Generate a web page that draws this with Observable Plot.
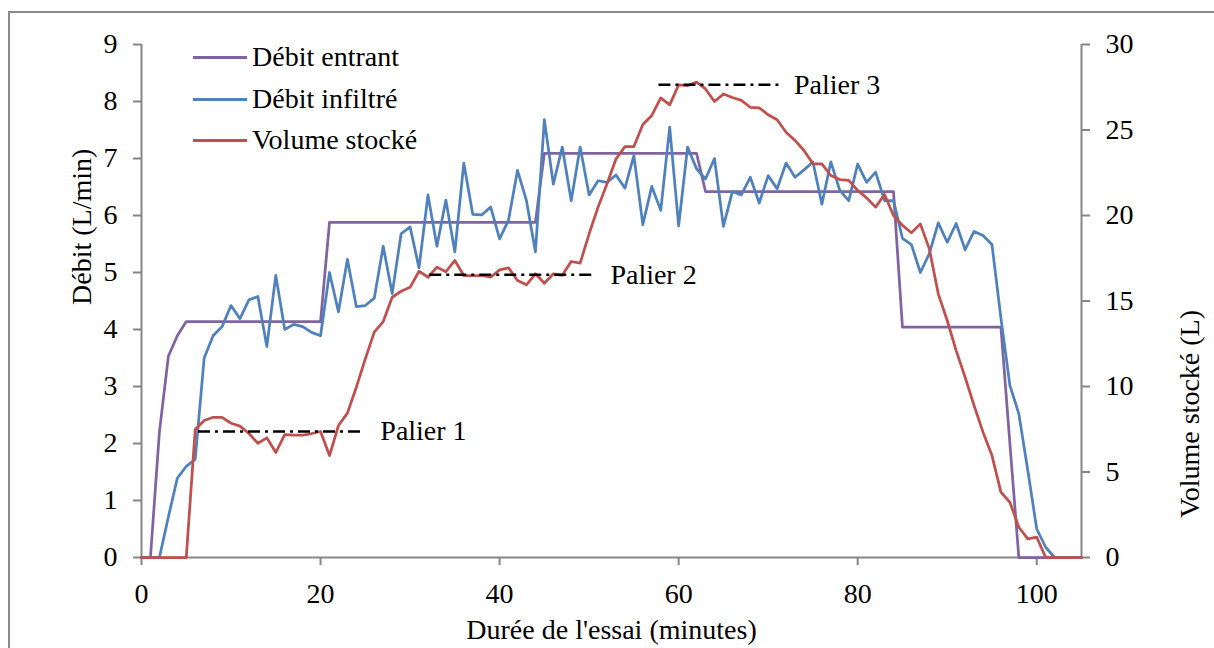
<!DOCTYPE html>
<html>
<head>
<meta charset="utf-8">
<script src="https://cdn.jsdelivr.net/npm/d3@7"></script>
<script src="https://cdn.jsdelivr.net/npm/@observablehq/plot@0.6"></script>
<style>
  html, body { margin: 0; padding: 0; background: #fff; overflow: hidden; }
  #wrap { position: relative; width: 1214px; height: 648px; font-family: "Liberation Serif", "DejaVu Serif", serif; }
  #frame { position: absolute; left: 8px; top: 11px; width: 1400px; height: 800px; border-left: 2px solid #8a8a8a; border-top: 2px solid #8a8a8a; }
  #legend { position: absolute; left: 193px; top: 0; font-size: 28px; color: #000; }
  .row { position: absolute; left: 0; height: 0; white-space: nowrap; }
  .sw { position: absolute; left: 0; top: -1.5px; width: 54px; height: 3px; }
  .lb { position: absolute; left: 59px; top: -17px; line-height: 34px; }
  #chart { position: absolute; left: 0; top: 0; }
</style>
</head>
<body>
<div id="wrap">
  <div id="frame"></div>
  <div id="chart"></div>
  <div id="legend"></div>
</div>
<script>
// ---- Data ----
const minutes = d3.range(0, 106);

const debitEntrant = [0, 0, 2.2, 3.53, 3.89, 4.14, 4.14, 4.14, 4.14, 4.14,
  4.14, 4.14, 4.14, 4.14, 4.14, 4.14, 4.14, 4.14, 4.14, 4.14,
  4.14, 5.88, 5.88, 5.88, 5.88, 5.88, 5.88, 5.88, 5.88, 5.88,
  5.88, 5.88, 5.88, 5.88, 5.88, 5.88, 5.88, 5.88, 5.88, 5.88,
  5.88, 5.88, 5.88, 5.88, 5.88, 7.09, 7.09, 7.09, 7.09, 7.09,
  7.09, 7.09, 7.09, 7.09, 7.09, 7.09, 7.09, 7.09, 7.09, 7.09,
  7.09, 7.09, 7.09, 6.42, 6.42, 6.42, 6.42, 6.42, 6.42, 6.42,
  6.42, 6.42, 6.42, 6.42, 6.42, 6.42, 6.42, 6.42, 6.42, 6.42,
  6.42, 6.42, 6.42, 6.42, 6.42, 4.04, 4.04, 4.04, 4.04, 4.04,
  4.04, 4.04, 4.04, 4.04, 4.04, 4.04, 4.04, 2.0, 0, 0,
  0, 0, 0, 0, 0, 0];

const debitInfiltre = [0, 0, 0, 0.71, 1.39, 1.6, 1.72, 3.5, 3.89, 4.05,
  4.42, 4.19, 4.52, 4.58, 3.70, 4.95, 4.0, 4.09, 4.05, 3.95,
  3.89, 5.0, 4.31, 5.23, 4.40, 4.42, 4.55, 5.46, 4.63, 5.68,
  5.80, 5.08, 6.36, 5.46, 6.27, 5.36, 6.92, 6.02, 6.01, 6.15,
  5.59, 5.92, 6.79, 6.26, 5.36, 7.68, 6.55, 7.2, 6.26, 7.2,
  6.36, 6.61, 6.58, 6.71, 6.48, 7.05, 5.84, 6.51, 6.09, 7.55,
  5.82, 7.2, 6.82, 6.64, 7.0, 5.81, 6.42, 6.36, 6.67, 6.22,
  6.70, 6.47, 6.92, 6.67, 6.80, 6.94, 6.2, 6.94, 6.44, 6.26,
  6.9, 6.58, 6.76, 6.26, 6.26, 5.6, 5.49, 5.0, 5.33, 5.87,
  5.53, 5.86, 5.4, 5.72, 5.65, 5.49, 4.2, 3.02, 2.52, 1.53,
  0.5, 0.18, 0, 0, 0, 0];

const volumeStocke = [0, 0, 0, 0, 0, 0, 7.49, 8.01, 8.2, 8.2,
  7.85, 7.68, 7.25, 6.68, 7.0, 6.14, 7.19, 7.15, 7.15, 7.25,
  7.37, 5.96, 7.72, 8.44, 9.96, 11.62, 13.18, 13.8, 15.22, 15.57,
  15.8, 16.74, 16.39, 16.98, 16.71, 17.37, 16.49, 16.49, 16.49, 16.39,
  16.82, 16.94, 16.2, 15.95, 16.59, 16.04, 16.59, 16.5, 17.31, 17.21,
  18.93, 20.49, 21.85, 23.3, 24.03, 24.03, 25.32, 25.85, 26.88, 26.47,
  27.64, 27.6, 27.8, 27.4, 26.67, 27.1, 26.9, 26.73, 26.33, 26.3,
  25.89, 25.6, 24.87, 24.39, 23.8, 23.02, 23.02, 22.34, 22.1, 22.05,
  21.46, 21.03, 20.49, 21.23, 20.0, 19.42, 18.99, 19.51, 18.05, 15.42,
  13.86, 12.1, 10.54, 8.89, 7.33, 5.96, 3.82, 3.23, 1.77, 1.09,
  1.19, 0, 0, 0, 0, 0];

const palierLabels = ["Palier 1", "Palier 2", "Palier 3"];
const palierStart = [6.37, 32.2, 57.8];
const palierEnd = [25.0, 50.7, 71.2];
const palierVolume = [7.37, 16.53, 27.64];

const seriesNames = ["Débit entrant", "Débit infiltré", "Volume stocké"];
const seriesColors = ["#8064A2", "#4F81BD", "#C0504D"];

const xTicks = [0, 20, 40, 60, 80, 100];
const yTicks = [0, 1, 2, 3, 4, 5, 6, 7, 8, 9];
const y2Ticks = [0, 5, 10, 15, 20, 25, 30];

const yLabel = "Débit (L/min)";
const y2Label = "Volume stocké (L)";
const xLabel = "Durée de l'essai (minutes)";

// ---- Build ----
const yMax = 9, y2Max = 30;
const k = yMax / y2Max; // map volume onto left scale

const rows = [];
minutes.forEach((t, i) => {
  rows.push({t, v: debitEntrant[i], s: seriesNames[0]});
});
minutes.forEach((t, i) => {
  rows.push({t, v: debitInfiltre[i], s: seriesNames[1]});
});
minutes.forEach((t, i) => {
  rows.push({t, v: volumeStocke[i] * k, s: seriesNames[2]});
});
const paliers = palierLabels.map((label, i) => ({label, x1: palierStart[i], x2: palierEnd[i], y: palierVolume[i] * k}));

const axisGray = "#868686";

const chart = Plot.plot({
  width: 1214,
  height: 648,
  marginLeft: 141,
  marginRight: 133,
  marginTop: 44,
  marginBottom: 91,
  style: {fontFamily: "Liberation Serif, DejaVu Serif, serif", fontSize: "28px", color: "#000", background: "transparent", overflow: "visible"},
  x: {domain: [0, 105]},
  y: {domain: [0, yMax]},
  color: {domain: seriesNames, range: seriesColors},
  marks: [
    Plot.ruleY([0], {stroke: axisGray, strokeWidth: 2}),
    Plot.ruleX([0], {stroke: axisGray, strokeWidth: 2}),
    Plot.ruleX([105], {stroke: axisGray, strokeWidth: 2}),
    Plot.axisX(xTicks, {tickSize: 8, tickPadding: 18, stroke: axisGray, strokeWidth: 2, label: null, tickFormat: d => String(d)}),
    Plot.axisY(yTicks, {anchor: "left", tickSize: 8, tickPadding: 16, stroke: axisGray, strokeWidth: 2, label: null, tickFormat: d => String(d)}),
    Plot.axisY(y2Ticks.map(v => v * k), {anchor: "right", tickSize: 8, tickPadding: 16, stroke: axisGray, strokeWidth: 2, label: null, tickFormat: d => String(Math.round(d / k))}),
    Plot.line(rows, {x: "t", y: "v", z: "s", stroke: "s", strokeWidth: 2.75, strokeLinejoin: "round"}),
    Plot.ruleY(paliers, {x1: "x1", x2: "x2", y: "y", stroke: "#000", strokeWidth: 2.5, strokeDasharray: "12,5,3,5"}),
    Plot.text(paliers, {x: "x2", y: "y", text: "label", textAnchor: "start", dx: 15, fill: "#000"}),
    Plot.text([yLabel], {frameAnchor: "left", dx: -59, dy: 4, rotate: -90, fill: "#000"}),
    Plot.text([y2Label], {frameAnchor: "right", dx: 109, dy: 9, rotate: -90, fill: "#000"}),
    Plot.text([xLabel], {frameAnchor: "bottom", dy: 81, fill: "#000"})
  ]
});
document.getElementById("chart").appendChild(chart);

// ---- Legend (HTML overlay) ----
const legendY = [57, 99, 140];
const legend = document.getElementById("legend");
seriesNames.forEach((name, i) => {
  const row = document.createElement("div");
  row.className = "row";
  row.style.top = legendY[i] + "px";
  const sw = document.createElement("div");
  sw.className = "sw";
  sw.style.background = seriesColors[i];
  const lb = document.createElement("div");
  lb.className = "lb";
  lb.textContent = name;
  row.appendChild(sw);
  row.appendChild(lb);
  legend.appendChild(row);
});
</script>
</body>
</html>
